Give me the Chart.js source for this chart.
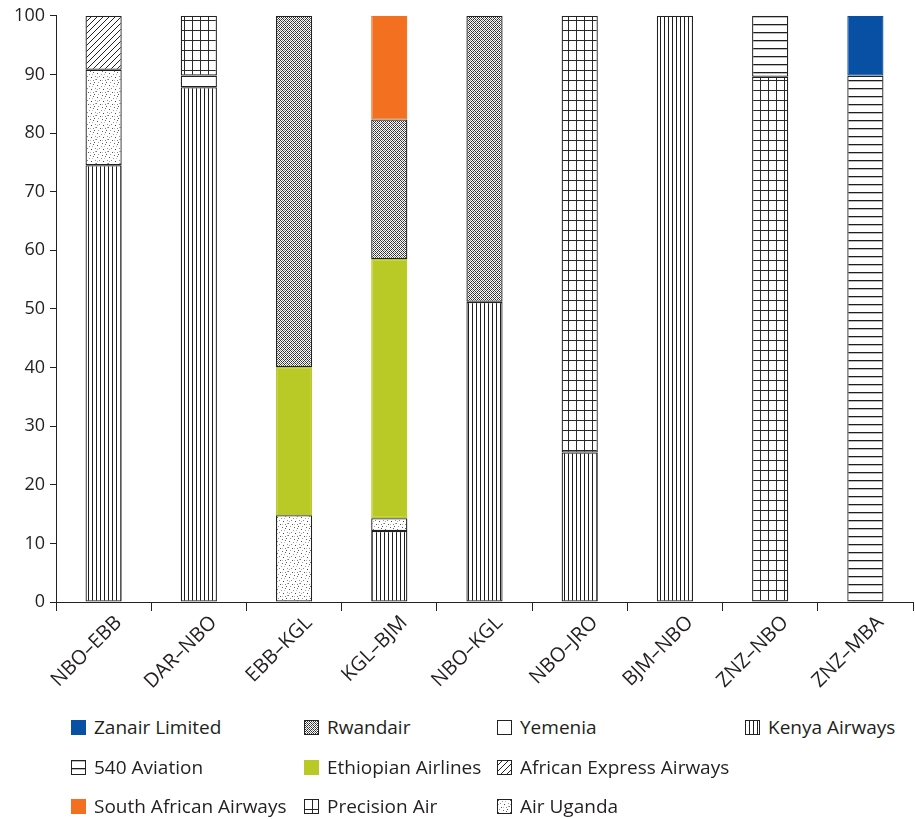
<!DOCTYPE html>
<html>
<head>
<meta charset="utf-8">
<script src="https://cdn.jsdelivr.net/npm/chart.js@4"></script>
<style>
  html, body { margin: 0; padding: 0; background: #fff; }
  #wrap { position: relative; width: 915px; height: 819px; font-family: "Open Sans", sans-serif; }
  #box { position: absolute; left: 0; top: 0; width: 915px; height: 690px; }
  .lg { position: absolute; display: flex; align-items: center; font-size: 19px; color: #231f20; white-space: nowrap; }
  .lg canvas { width: 15px; height: 15px; margin-right: 8px; }
</style>
</head>
<body>
<div id="wrap">
  <div id="box"><canvas id="c"></canvas></div>
  <div id="legend"></div>
</div>
<script>
// ---- data ----
const categories = ["NBO–EBB", "DAR–NBO", "EBB–KGL", "KGL–BJM", "NBO–KGL", "NBO–JRO", "BJM–NBO", "ZNZ–NBO", "ZNZ–MBA"];
const kenyaAirways      = [74.5, 87.8, 0,    12.1, 51.2, 25.5, 100, 0,    0];
const yemenia           = [0,    2.0,  0,    0,    0,    0,    0,   0,    0];
const airUganda         = [16.3, 0,    14.8, 2.2,  0,    0,    0,   0,    0];
const africanExpress    = [9.2,  0,    0,    0,    0,    0,    0,   0,    0];
const precisionAir      = [0,    10.2, 0,    0,    0,    74.5, 0,   89.6, 0];
const ethiopianAirlines = [0,    0,    25.3, 44.2, 0,    0,    0,   0,    0];
const rwandair          = [0,    0,    59.9, 23.8, 48.8, 0,    0,   0,    0];
const southAfrican      = [0,    0,    0,    17.7, 0,    0,    0,   0,    0];
const aviation540       = [0,    0,    0,    0,    0,    0,    0,   10.4, 89.8];
const zanair            = [0,    0,    0,    0,    0,    0,    0,   0,    10.2];
const yTicks = [0, 10, 20, 30, 40, 50, 60, 70, 80, 90, 100];

// ---- patterns ----
function tile(w, h, draw) {
  const c = document.createElement('canvas');
  c.width = w; c.height = h;
  const g = c.getContext('2d');
  g.fillStyle = '#fff'; g.fillRect(0, 0, w, h);
  draw(g, w, h);
  return c;
}
const tiles = {
  vert: tile(4, 4, (g) => { g.fillStyle = '#1e1e1e'; g.fillRect(0, 0, 1, 4); }),
  grid: tile(8, 10, (g) => { g.fillStyle = '#2a2a2a'; g.fillRect(0, 0, 1, 10); g.fillRect(0, 0, 8, 1); }),
  horiz: tile(8, 8, (g) => { g.fillStyle = '#1e1e1e'; g.fillRect(0, 0, 8, 1.3); }),
  cross: tile(4, 4, (g) => {
    const dark = [[0,0],[1,1],[2,2],[3,3],[1,3],[3,1]];
    g.fillStyle = '#333';
    dark.forEach(([x, y]) => g.fillRect(x, y, 1, 1));
    g.fillStyle = '#888';
    g.fillRect(2, 0, 1, 1); g.fillRect(0, 2, 1, 1);
  }),
  diag: tile(6, 6, (g) => {
    g.strokeStyle = '#222'; g.lineWidth = 1;
    g.beginPath(); g.moveTo(-1, 7); g.lineTo(7, -1); g.stroke();
    g.beginPath(); g.moveTo(-1, 1); g.lineTo(1, -1); g.stroke();
    g.beginPath(); g.moveTo(5, 7); g.lineTo(7, 5); g.stroke();
  }),
  dots: tile(12, 12, (g) => {
    const pts = [[1,1,'#555'],[5,2,'#999'],[9,0,'#666'],[3,4,'#888'],[7,5,'#444'],[11,4,'#999'],
                 [0,7,'#777'],[4,8,'#555'],[9,8,'#888'],[2,10,'#999'],[6,11,'#666'],[10,10,'#555'],
                 [8,2,'#bbb'],[1,5,'#aaa'],[6,8,'#bbb'],[11,7,'#aaa']];
    pts.forEach(([x, y, c]) => { g.fillStyle = c; g.fillRect(x, y, 1, 1); });
  }),
  white: tile(2, 2, () => {})
};
const ctx0 = document.getElementById('c').getContext('2d');
function pat(name) { return ctx0.createPattern(tiles[name], 'repeat'); }

const series = [
  { label: 'Kenya Airways', data: kenyaAirways, fill: pat('vert'), sw: 'vert', border: '#222' },
  { label: 'Yemenia', data: yemenia, fill: '#fff', sw: 'white', border: '#222' },
  { label: 'Air Uganda', data: airUganda, fill: pat('dots'), sw: 'dots', border: '#222' },
  { label: 'African Express Airways', data: africanExpress, fill: pat('diag'), sw: 'diag', border: '#222' },
  { label: 'Precision Air', data: precisionAir, fill: pat('grid'), sw: 'grid', border: '#222' },
  { label: 'Ethiopian Airlines', data: ethiopianAirlines, fill: '#b9c925', color: '#b9c925', border: '#b9c925' },
  { label: 'Rwandair', data: rwandair, fill: pat('cross'), sw: 'cross', border: '#222' },
  { label: 'South African Airways', data: southAfrican, fill: '#f37021', color: '#f37021', border: '#f37021' },
  { label: '540 Aviation', data: aviation540, fill: pat('horiz'), sw: 'horiz', border: '#222' },
  { label: 'Zanair Limited', data: zanair, fill: '#0750a4', color: '#0750a4', border: '#0750a4' }
];

const datasets = series.map(s => ({
  label: s.label,
  data: s.data,
  backgroundColor: s.fill,
  borderColor: s.border,
  borderWidth: 1.3,
  borderSkipped: false,
  categoryPercentage: 1.0,
  barPercentage: 0.38
}));

const FONT = '"Open Sans", sans-serif';
new Chart(document.getElementById('c'), {
  type: 'bar',
  data: { labels: categories, datasets },
  options: {
    responsive: true,
    maintainAspectRatio: false,
    animation: false,
    layout: { padding: { top: 14, right: 2, left: 0, bottom: 0 } },
    plugins: { legend: { display: false }, tooltip: { enabled: false } },
    scales: {
      x: {
        stacked: true,
        afterFit: (s) => { s.height = 88; },
        grid: { offset: true, drawOnChartArea: false, drawTicks: true, tickLength: 9, color: '#222', lineWidth: 1 },
        border: { color: '#222', width: 1 },
        ticks: { minRotation: 45, maxRotation: 45, color: '#231f20', font: { family: FONT, size: 20 }, padding: 0, labelOffset: 15 }
      },
      y: {
        stacked: true,
        min: 0, max: 100,
        afterFit: (s) => { s.width = 56; },
        afterBuildTicks: (s) => { s.ticks = yTicks.map(v => ({ value: v })); },
        grid: { drawOnChartArea: false, drawTicks: true, tickLength: 6, color: '#222', lineWidth: 1 },
        border: { color: '#222', width: 1 },
        ticks: { color: '#231f20', font: { family: FONT, size: 18 }, padding: 5 }
      }
    }
  }
});

// ---- legend (column-major, 3 rows) ----
const legendOrder = ['Zanair Limited', '540 Aviation', 'South African Airways',
                     'Rwandair', 'Ethiopian Airlines', 'Precision Air',
                     'Yemenia', 'African Express Airways', 'Air Uganda',
                     'Kenya Airways'];
const colX = [71, 304, 497, 745];
const rowY = [727, 767, 806];
const legendEl = document.getElementById('legend');
legendOrder.forEach((name, i) => {
  const s = series.find(d => d.label === name);
  const col = Math.floor(i / 3), row = i % 3;
  const item = document.createElement('div');
  item.className = 'lg';
  item.style.left = colX[col] + 'px';
  item.style.top = (rowY[row] - 12) + 'px';
  item.style.height = '24px';
  const sw = document.createElement('canvas');
  sw.width = 15; sw.height = 15;
  const g = sw.getContext('2d');
  if (s.color) {
    g.fillStyle = s.color; g.fillRect(0, 0, 15, 15);
  } else {
    g.fillStyle = g.createPattern(tiles[s.sw], 'repeat'); g.fillRect(0, 0, 15, 15);
    g.strokeStyle = '#222'; g.lineWidth = 1; g.strokeRect(0.5, 0.5, 14, 14);
  }
  item.appendChild(sw);
  const t = document.createElement('span');
  t.textContent = name;
  item.appendChild(t);
  legendEl.appendChild(item);
});
</script>
</body>
</html>
